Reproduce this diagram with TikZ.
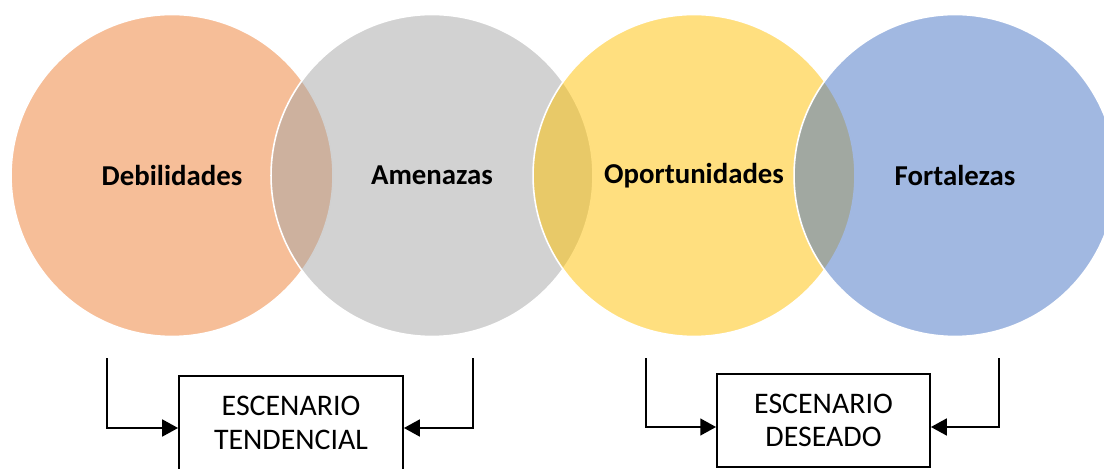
\documentclass[tikz,border=0pt]{standalone}
\usepackage{fontspec}
\setmainfont{Carlito}
\usetikzlibrary{arrows.meta}
\definecolor{naranja}{HTML}{ED7D31}
\definecolor{gris}{HTML}{A5A5A5}
\definecolor{amarillo}{HTML}{FFC000}
\definecolor{azul}{HTML}{4472C4}
\tikzset{conjunto/.style={circle,minimum size=6.44cm,inner sep=0,fill opacity=0.5,text opacity=1,draw=white,line width=0.9pt,font=\fontsize{16.4}{19}\selectfont\bfseries}}
\tikzset{escenario/.style={rectangle,draw=black,line width=1.1pt,align=center,font=\fontsize{17}{19}\selectfont}}
\tikzset{flecha/.style={line width=1.1pt,-{Triangle[length=9pt,width=9.6pt]}}}

\begin{document}
\begin{tikzpicture}[x=0.02cm,y=-0.02cm]
      \clip (0,0) rectangle (1104,469);

      %circulos (medio transparentes, cada uno encima del anterior)
      \node[conjunto, fill=naranja] (deb) at (172,175.5) {Debilidades};
      \node[conjunto, fill=gris] (ame) at (432,175.5) {Amenazas};
      \node[conjunto, fill=amarillo] (opo) at (694,175.5) {Oportunidades};
      \node[conjunto, fill=azul] (fort) at (955,175.5) {Fortalezas};

      %escenarios
      \node[escenario, minimum width=4.48cm, minimum height=1.88cm] (tend) at (291,423) {ESCENARIO\\TENDENCIAL};
      \node[escenario, minimum width=4.26cm, minimum height=1.86cm] (des) at (823.5,420.5) {ESCENARIO\\DESEADO};

      %inicio de las flechas
      \coordinate (d1) at (107,358);
      \coordinate (a1) at (473,358);
      \coordinate (o1) at (646,358);
      \coordinate (f1) at (999,358);

      \draw[flecha] (d1) |- ([yshift=-0.1cm]tend.west);
      \draw[flecha] (a1) |- ([yshift=-0.1cm]tend.east);
      \draw[flecha] (o1) |- ([yshift=-0.13cm]des.west);
      \draw[flecha] (f1) |- ([yshift=-0.13cm]des.east);

    \end{tikzpicture}
\end{document}
